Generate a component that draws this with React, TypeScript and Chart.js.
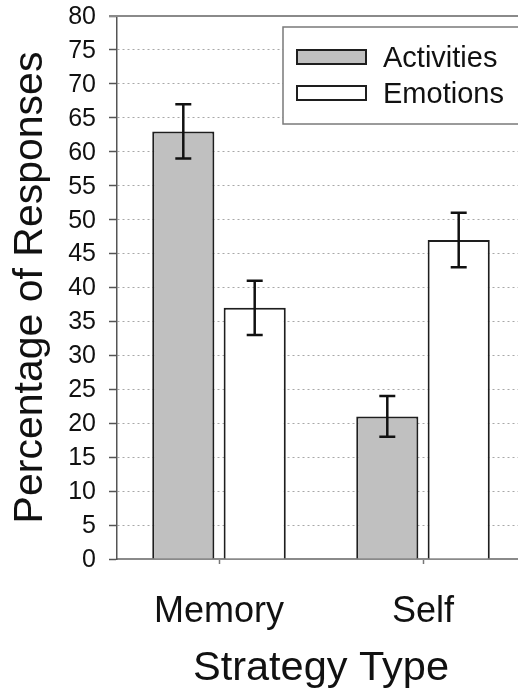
import React, { useEffect, useRef } from "react";
import { Chart, registerables } from "chart.js";

Chart.register(...registerables);

const categories = ["Memory", "Self"];
const seriesNames = ["Activities", "Emotions"];
const activities = [63, 21];
const emotions = [37, 47];
const activitiesErr = [4, 3];
const emotionsErr = [4, 4];
const yTitle = "Percentage of Responses";
const xTitle = "Strategy Type";

const FONT = "'Liberation Sans', Arial, Helvetica, sans-serif";
const ACT_FILL = "#c0c0c0";
const EMO_FILL = "#ffffff";
const BAR_BORDER = "#1e1e1e";

const errorBarPlugin = {
  id: "errorBars",
  afterDatasetsDraw(chart: any) {
    const { ctx } = chart;
    const yScale = chart.scales.y;
    const errs = [activitiesErr, emotionsErr];
    const vals = [activities, emotions];
    ctx.save();
    ctx.strokeStyle = "#111";
    ctx.lineWidth = 2.5;
    chart.data.datasets.forEach((_: any, di: number) => {
      const meta = chart.getDatasetMeta(di);
      meta.data.forEach((bar: any, i: number) => {
        const v = vals[di][i];
        const e = errs[di][i];
        const yHi = yScale.getPixelForValue(v + e);
        const yLo = yScale.getPixelForValue(v - e);
        const x = bar.x;
        const cap = 8;
        ctx.beginPath();
        ctx.moveTo(x, yHi);
        ctx.lineTo(x, yLo);
        ctx.moveTo(x - cap, yHi);
        ctx.lineTo(x + cap, yHi);
        ctx.moveTo(x - cap, yLo);
        ctx.lineTo(x + cap, yLo);
        ctx.stroke();
      });
    });
    ctx.restore();
  },
};

const framePlugin = {
  id: "frameAndLegend",
  afterDraw(chart: any) {
    const { ctx, chartArea } = chart;
    ctx.save();
    // top frame line
    ctx.strokeStyle = "#8a8a8a";
    ctx.lineWidth = 2;
    ctx.beginPath();
    ctx.moveTo(chartArea.left - 8, chartArea.top);
    ctx.lineTo(chartArea.right, chartArea.top);
    ctx.stroke();

    // legend box
    const bx = chartArea.right - 242;
    const by = chartArea.top + 11;
    const bw = 238;
    const bh = 97;
    ctx.fillStyle = "#ffffff";
    ctx.fillRect(bx, by, bw, bh);
    ctx.strokeStyle = "#7a7a7a";
    ctx.lineWidth = 1.5;
    ctx.strokeRect(bx, by, bw, bh);

    const fills = [ACT_FILL, EMO_FILL];
    const rowTops = [by + 23, by + 59];
    ctx.font = `29px ${FONT}`;
    ctx.textBaseline = "alphabetic";
    ctx.textAlign = "left";
    seriesNames.forEach((name, i) => {
      const sx = bx + 14;
      const sy = rowTops[i];
      ctx.fillStyle = fills[i];
      ctx.fillRect(sx, sy, 69, 14);
      ctx.strokeStyle = BAR_BORDER;
      ctx.lineWidth = 2;
      ctx.strokeRect(sx, sy, 69, 14);
      ctx.fillStyle = "#111";
      ctx.fillText(name, bx + 100, sy + 17);
    });
    ctx.restore();
  },
};

export default function App() {
  const canvasRef = useRef<HTMLCanvasElement | null>(null);

  useEffect(() => {
    const canvas = canvasRef.current;
    if (!canvas) return;
    const chart = new Chart(canvas, {
      type: "bar",
      data: {
        labels: categories,
        datasets: [
          {
            label: seriesNames[0],
            data: activities,
            backgroundColor: ACT_FILL,
            borderColor: BAR_BORDER,
            borderWidth: 2,
          },
          {
            label: seriesNames[1],
            data: emotions,
            backgroundColor: EMO_FILL,
            borderColor: BAR_BORDER,
            borderWidth: 2,
          },
        ],
      },
      options: {
        responsive: false,
        animation: false,
        categoryPercentage: 0.7,
        barPercentage: 0.87,
        layout: { padding: { top: 16, right: 0, bottom: 0, left: 0 } },
        plugins: {
          legend: { display: false },
          tooltip: { enabled: false },
          title: { display: false },
        },
        scales: {
          x: {
            grid: {
              offset: false,
              drawOnChartArea: false,
              drawTicks: true,
              tickLength: 5,
              tickColor: "#777",
              tickWidth: 1.5,
            },
            border: { display: true, color: "#8a8a8a", width: 2 },
            ticks: {
              color: "#111",
              padding: 26,
              font: { family: FONT, size: 36 },
            },
            title: {
              display: true,
              text: xTitle,
              color: "#111",
              font: { family: FONT, size: 41.5 },
              padding: { top: 0, bottom: 0 },
            },
            afterFit(scale: any) {
              scale.height = 134;
              scale.paddingLeft = 0;
              scale.paddingRight = 0;
            },
          },
          y: {
            min: 0,
            max: 80,
            grid: {
              color: (c: any) =>
                c.tick && (c.tick.value === 0 || c.tick.value === 80)
                  ? "rgba(0,0,0,0)"
                  : "#a8a8a8",
              lineWidth: 1,
              drawTicks: true,
              tickLength: 8,
              tickColor: "#555",
              tickWidth: 1.5,
            },
            border: { display: true, color: "#555", width: 1.5, dash: [2, 3] },
            ticks: {
              stepSize: 5,
              color: "#111",
              padding: 13,
              labelOffset: 1,
              font: { family: FONT, size: 25 },
            },
            title: {
              display: true,
              text: yTitle,
              color: "#111",
              font: { family: FONT, size: 41 },
              padding: { top: 6, bottom: 0 },
            },
            afterFit(scale: any) {
              scale.width = 117;
              scale.paddingTop = 0;
              scale.paddingBottom = 0;
            },
          },
        },
      },
      plugins: [errorBarPlugin, framePlugin],
    });
    return () => chart.destroy();
  }, []);

  return (
    <div
      style={{
        position: "fixed",
        left: 0,
        top: 0,
        width: 518,
        height: 693,
        overflow: "hidden",
        background: "#fff",
      }}
    >
      <canvas
        ref={canvasRef}
        width={525}
        height={693}
        style={{ display: "block", width: 525, height: 693 }}
      />
    </div>
  );
}
